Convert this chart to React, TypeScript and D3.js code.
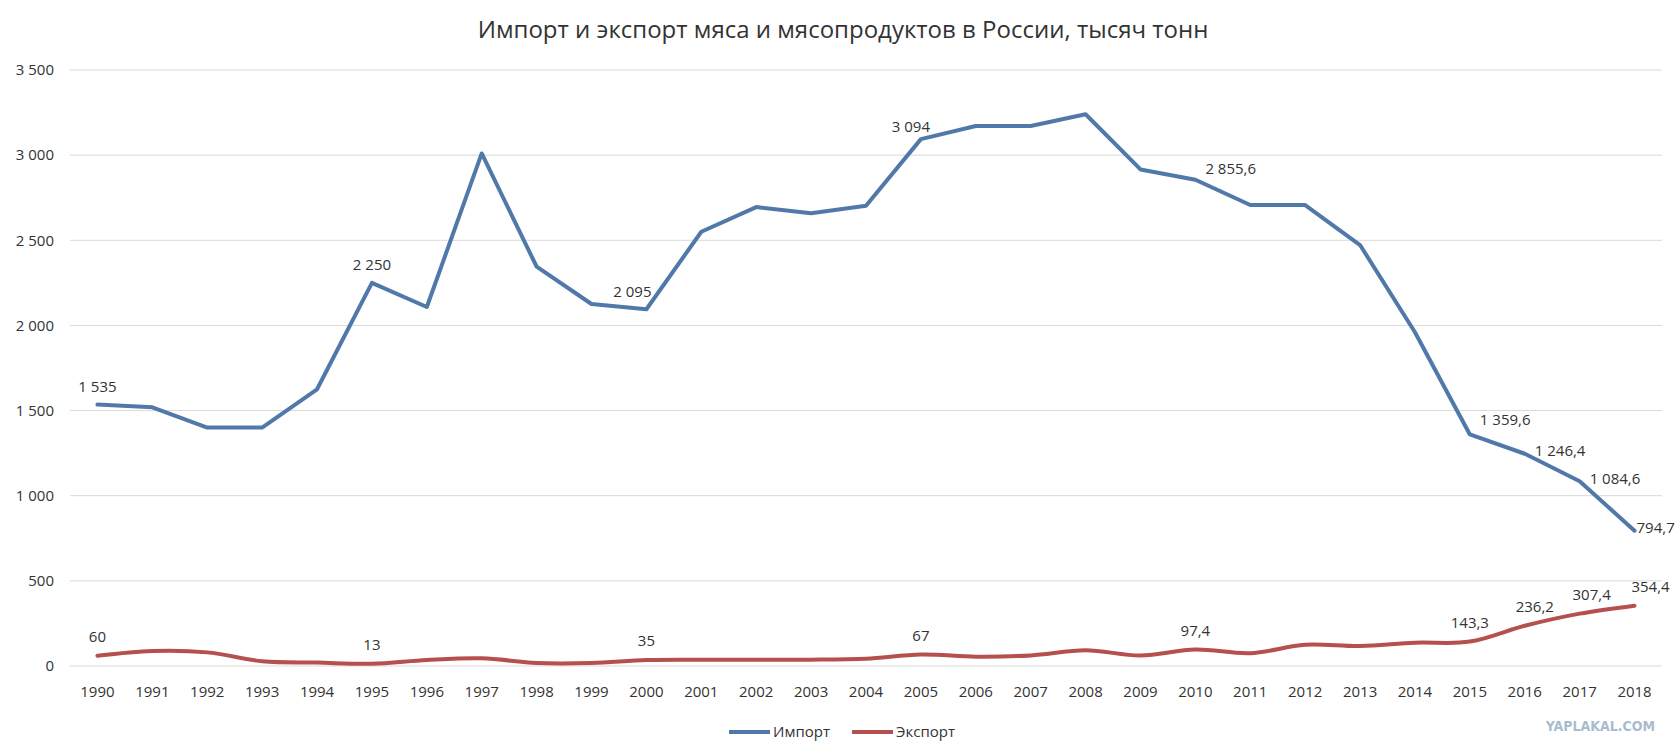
import * as d3 from 'd3'

const years = [
  1990, 1991, 1992, 1993, 1994, 1995, 1996, 1997, 1998, 1999,
  2000, 2001, 2002, 2003, 2004, 2005, 2006, 2007, 2008, 2009,
  2010, 2011, 2012, 2013, 2014, 2015, 2016, 2017, 2018,
]

// Импорт, тыс. тонн
const importValues = [
  1535, 1519, 1400, 1400, 1625, 2250, 2108, 3010, 2345, 2126,
  2095, 2550, 2695, 2659, 2703, 3094, 3171, 3171, 3240, 2916,
  2855.6, 2707, 2707, 2472, 1960, 1359.6, 1246.4, 1084.6, 794.7,
]

// Экспорт, тыс. тонн
const exportValues = [
  60, 88, 80, 28, 20, 13, 35, 45, 18, 18,
  35, 37, 37, 37, 43, 67, 55, 62, 92, 62,
  97.4, 75, 125, 117, 137, 143.3, 236.2, 307.4, 354.4,
]

const yTicks = [0, 500, 1000, 1500, 2000, 2500, 3000, 3500]

// which points carry a data label and where it sits
const importLabels: [number, 'above' | 'right'][] = [
  [1990, 'above'], [1995, 'above'], [2000, 'above'], [2005, 'above'],
  [2010, 'right'], [2015, 'right'], [2016, 'right'], [2017, 'right'], [2018, 'right'],
]
const exportLabels = [1990, 1995, 2000, 2005, 2010, 2015, 2016, 2017, 2018]

const title = 'Импорт и экспорт мяса и мясопродуктов в России, тысяч тонн'
const seriesNames = ['Импорт', 'Экспорт']
const colors = ['#5079aa', '#b6504e']

const W = 1676
const H = 755
const plot = { left: 70, right: 1662, top: 70, bottom: 666 }
const font = '"Open Sans", "Noto Sans", sans-serif'
const textColor = '#333'

const ru = d3.formatLocale({ decimal: ',', thousands: '\u00a0', grouping: [3], currency: ['', ''] })
const fmtTick = ru.format(',d')
const fmtVal = ru.format(',.1~f')

export default function App() {
  const band = d3.scaleBand<number>().domain(years).range([plot.left, plot.right])
  const x = (yr: number) => (band(yr) ?? 0) + band.bandwidth() / 2
  const y = d3.scaleLinear().domain([0, 3500]).range([plot.bottom, plot.top])

  const importLine = d3.line<number>()
    .x((_, i) => x(years[i]))
    .y(d => y(d))
  const exportLine = d3.line<number>()
    .x((_, i) => x(years[i]))
    .y(d => y(d))
    .curve(d3.curveCardinal.tension(0))

  const legendX = 729
  const legendY = 732

  // small nudges copied from the reference label placement
  const importNudge: Record<number, [number, number]> = {
    2000: [-14, 0], 2005: [-10, 6], 2010: [0, -8], 2015: [0, -12], 2018: [-8, 0],
  }
  const exportNudge: Record<number, number> = { 2016: 10, 2017: 12, 2018: 16 }

  return (
    <div style={{ position: 'absolute', left: 0, top: 0 }}>
      <svg width={W} height={H} style={{ display: 'block', background: '#fff' }} fontFamily={font}>
        <text x={843} y={30} dy="0.35em" textAnchor="middle" fontSize={24} fill={textColor}>
          {title}
        </text>

        {/* grid + y axis */}
        {yTicks.map(t => (
          <g key={t}>
            <line x1={plot.left} x2={plot.right} y1={y(t)} y2={y(t)} stroke="#d9d9d9" strokeWidth={1} />
            <text x={54} y={y(t)} dy="0.35em" textAnchor="end" fontSize={15} fill={textColor}>
              {fmtTick(t)}
            </text>
          </g>
        ))}

        {/* x axis labels */}
        {years.map(yr => (
          <text key={yr} x={x(yr)} y={692} dy="0.35em" textAnchor="middle" fontSize={15} fill={textColor}>
            {yr}
          </text>
        ))}

        <path d={exportLine(exportValues) ?? ''} fill="none" stroke={colors[1]} strokeWidth={4} strokeLinejoin="round" strokeLinecap="round" />
        <path d={importLine(importValues) ?? ''} fill="none" stroke={colors[0]} strokeWidth={4} strokeLinejoin="round" strokeLinecap="round" />

        {/* data labels */}
        {importLabels.map(([yr, pos]) => {
          const i = years.indexOf(yr)
          const isRight = pos === 'right'
          const [nx, ny] = importNudge[yr] ?? [0, 0]
          const px = x(yr) + (isRight ? 10 : 0) + nx
          const py = y(importValues[i]) + (isRight ? -3 : -18) + ny
          return (
            <text
              key={yr}
              x={px}
              y={py}
              dy="0.35em"
              textAnchor={isRight ? 'start' : 'middle'}
              fontSize={15}
              fill={textColor}
            >
              {fmtVal(importValues[i])}
            </text>
          )
        })}
        {exportLabels.map(yr => {
          const i = years.indexOf(yr)
          const px = x(yr) + (exportNudge[yr] ?? 0)
          const py = y(exportValues[i]) - 19
          return (
            <text key={yr} x={px} y={py} dy="0.35em" textAnchor="middle" fontSize={15} fill={textColor}>
              {fmtVal(exportValues[i])}
            </text>
          )
        })}

        {/* legend */}
        {seriesNames.map((name, k) => {
          const lx = legendX + k * 123
          return (
            <g key={name}>
              <line x1={lx} x2={lx + 41} y1={legendY} y2={legendY} stroke={colors[k]} strokeWidth={4} />
              <text x={lx + 44} y={legendY} dy="0.35em" fontSize={15} fill={textColor}>
                {name}
              </text>
            </g>
          )
        })}

        <text x={1655} y={726} dy="0.35em" textAnchor="end" fontSize={14} fontWeight="bold" fill="#a9bccd" fontFamily='"Liberation Sans Narrow", "DejaVu Sans Condensed", sans-serif'>
          YAPLAKAL.COM
        </text>
      </svg>
    </div>
  )
}
